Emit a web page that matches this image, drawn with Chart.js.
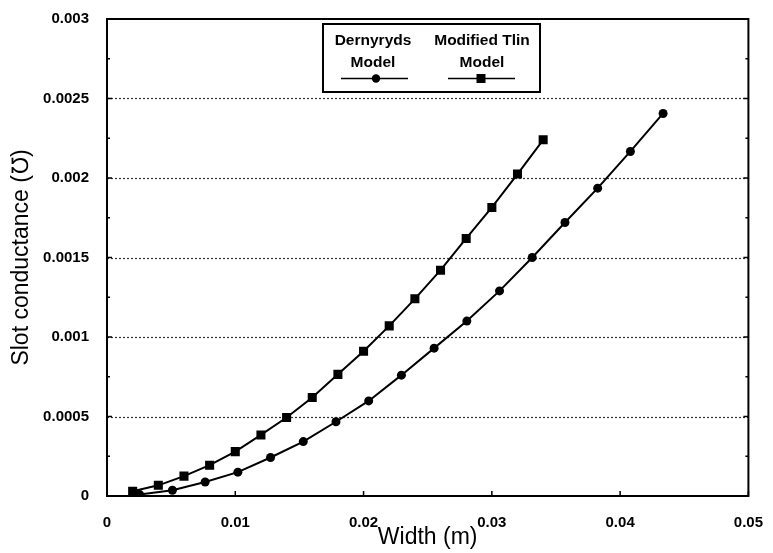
<!DOCTYPE html>
<html>
<head>
<meta charset="utf-8">
<script src="https://cdn.jsdelivr.net/npm/chart.js@4.4.1/dist/chart.umd.min.js"></script>
<style>
  html, body { margin: 0; padding: 0; background: #fff; }
</style>
</head>
<body>
<canvas id="slot_chart" width="773" height="553"></canvas>
<script>
// values
var dernyryds_width = [0.00255, 0.0051, 0.00765, 0.0102, 0.01275, 0.0153, 0.01785, 0.0204, 0.02295,
  0.0255, 0.02805, 0.0306, 0.03315, 0.0357, 0.03825, 0.0408, 0.04335];
var dernyryds_g = [0.000009, 0.000036, 0.000088, 0.00015, 0.000242, 0.000342, 0.000467, 0.000598, 0.00076,
  0.00093, 0.0011, 0.00129, 0.0015, 0.00172, 0.001936, 0.002167, 0.002406];
var tlin_width = [0.002, 0.004, 0.006, 0.008, 0.010, 0.012, 0.014, 0.016, 0.018,
  0.020, 0.022, 0.024, 0.026, 0.028, 0.030, 0.032, 0.034];
var tlin_g = [0.00003, 0.000067, 0.000125, 0.000194, 0.000279, 0.000384, 0.000494, 0.000619, 0.000765,
  0.000911, 0.00107, 0.00124, 0.00142, 0.00162, 0.001815, 0.002025, 0.00224];
var series_names = [["Dernyryds", "Model"], ["Modified Tlin", "Model"]];
var x_ticks = [0, 0.01, 0.02, 0.03, 0.04, 0.05];
var y_ticks = [0, 0.0005, 0.001, 0.0015, 0.002, 0.0025, 0.003];
var x_title = "Width (m)";
var y_title = "Slot conductance (\u2127)";

function toPoints(xs, ys) {
  var pts = [];
  for (var i = 0; i < xs.length; i++) {
    pts.push({ x: xs[i], y: ys[i] });
  }
  return pts;
}

// frame, inward ticks and dotted grid lines
var framePlugin = {
  id: 'frame',
  beforeDatasetsDraw: function (chart) {
    var ctx = chart.ctx;
    var a = chart.chartArea;
    var ys = chart.scales.y;
    ctx.save();
    ctx.strokeStyle = '#333';
    ctx.lineWidth = 1.2;
    ctx.setLineDash([2, 2]);
    for (var i = 1; i < y_ticks.length - 1; i++) {
      var py = Math.round(ys.getPixelForValue(y_ticks[i])) + 0.5;
      ctx.beginPath();
      ctx.moveTo(a.left, py);
      ctx.lineTo(a.right, py);
      ctx.stroke();
    }
    ctx.restore();
  },
  afterDatasetsDraw: function (chart) {
    var ctx = chart.ctx;
    var a = chart.chartArea;
    var xs = chart.scales.x;
    var ys = chart.scales.y;
    ctx.save();
    ctx.strokeStyle = '#000';
    ctx.lineWidth = 2;
    ctx.strokeRect(a.left, a.top, a.right - a.left, a.bottom - a.top);
    ctx.lineWidth = 1.5;
    ctx.beginPath();
    for (var i = 0; i < y_ticks.length; i++) {
      var py = ys.getPixelForValue(y_ticks[i]);
      ctx.moveTo(a.left, py); ctx.lineTo(a.left + 5, py);
      ctx.moveTo(a.right, py); ctx.lineTo(a.right - 5, py);
      if (i < y_ticks.length - 1) {
        var pm = ys.getPixelForValue((y_ticks[i] + y_ticks[i + 1]) / 2);
        ctx.moveTo(a.left, pm); ctx.lineTo(a.left + 3, pm);
        ctx.moveTo(a.right, pm); ctx.lineTo(a.right - 3, pm);
      }
    }
    for (var j = 0; j < x_ticks.length; j++) {
      var px = xs.getPixelForValue(x_ticks[j]);
      ctx.moveTo(px, a.bottom); ctx.lineTo(px, a.bottom - 5);
    }
    ctx.stroke();
    ctx.restore();
  },
  afterDraw: function (chart) {
    // legend box
    var ctx = chart.ctx;
    ctx.save();
    ctx.fillStyle = '#fff';
    ctx.fillRect(323, 24, 217, 68);
    ctx.strokeStyle = '#000';
    ctx.lineWidth = 2;
    ctx.strokeRect(323, 24, 217, 68);
    ctx.fillStyle = '#000';
    ctx.font = 'bold 15.5px "Liberation Sans", Arial, sans-serif';
    ctx.textAlign = 'center';
    ctx.textBaseline = 'middle';
    var cols = [{ cx: 373, l0: 341, l1: 408, m: 376 }, { cx: 482, l0: 448, l1: 515, m: 481 }];
    for (var k = 0; k < cols.length; k++) {
      var c = cols[k];
      ctx.fillText(series_names[k][0], c.cx, 41);
      ctx.fillText(series_names[k][1], c.cx, 63);
      ctx.lineWidth = 1.5;
      ctx.beginPath();
      ctx.moveTo(c.l0, 78.5);
      ctx.lineTo(c.l1, 78.5);
      ctx.stroke();
      ctx.beginPath();
      if (k == 0) {
        ctx.arc(c.m, 78.5, 4.2, 0, Math.PI * 2);
      } else {
        ctx.rect(c.m - 4.5, 74, 9, 9);
      }
      ctx.fill();
    }
    ctx.restore();
  }
};

const ctx = document.getElementById('slot_chart').getContext('2d');
const chart = new Chart(ctx, {
  type: 'scatter',
  data: {
    datasets: [{
      label: series_names[0].join(' '),
      data: toPoints(dernyryds_width, dernyryds_g),
      showLine: true,
      borderColor: '#000',
      backgroundColor: '#000',
      borderWidth: 2,
      pointStyle: 'circle',
      pointRadius: 4.5,
      pointBorderWidth: 0,
      tension: 0
    }, {
      label: series_names[1].join(' '),
      data: toPoints(tlin_width, tlin_g),
      showLine: true,
      borderColor: '#000',
      backgroundColor: '#000',
      borderWidth: 2,
      pointStyle: 'rect',
      pointRadius: 6.4,
      pointBorderWidth: 0,
      tension: 0
    }]
  },
  options: {
    responsive: false,
    animation: false,
    devicePixelRatio: 1,
    layout: { padding: { top: 16, right: 17, left: 0, bottom: 0 } },
    plugins: {
      legend: { display: false },
      tooltip: { enabled: false }
    },
    scales: {
      x: {
        type: 'linear',
        min: 0,
        max: 0.05,
        afterBuildTicks: function (scale) {
          scale.ticks = x_ticks.map(function (v) { return { value: v }; });
        },
        afterFit: function (scale) { scale.height = 57; },
        grid: { display: false },
        border: { display: false },
        ticks: {
          color: '#000',
          padding: 10,
          maxRotation: 0,
          font: { family: '"Liberation Sans", Arial, sans-serif', size: 15, weight: 'bold' },
          callback: function (v) { return String(v); }
        },
        title: {
          display: true,
          text: x_title,
          color: '#000',
          padding: { top: 0, bottom: 2 },
          font: { family: '"Liberation Sans", Arial, sans-serif', size: 23 }
        }
      },
      y: {
        type: 'linear',
        min: 0,
        max: 0.003,
        afterBuildTicks: function (scale) {
          scale.ticks = y_ticks.map(function (v) { return { value: v }; });
        },
        afterFit: function (scale) { scale.width = 107; },
        grid: { display: false },
        border: { display: false },
        ticks: {
          color: '#000',
          padding: 10,
          font: { family: '"Liberation Sans", Arial, sans-serif', size: 15, weight: 'bold' },
          callback: function (v) { return String(v); }
        },
        title: {
          display: true,
          text: y_title,
          color: '#000',
          padding: { top: 8, bottom: 0 },
          font: { family: '"Liberation Sans", Arial, sans-serif', size: 23 }
        }
      }
    }
  },
  plugins: [framePlugin]
});
</script>
</body>
</html>
